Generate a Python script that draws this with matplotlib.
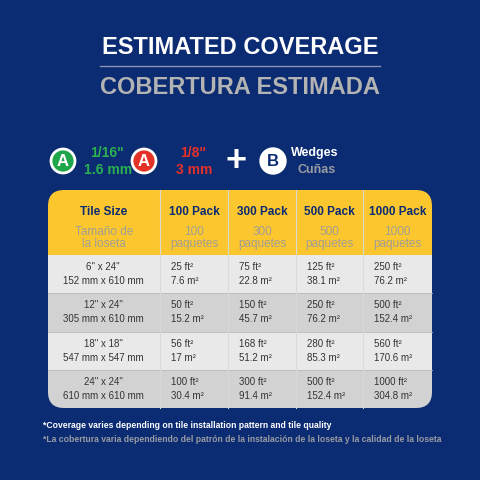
import matplotlib
matplotlib.use("Agg")
import matplotlib.pyplot as plt
from matplotlib.patches import FancyBboxPatch, Rectangle, Circle

col_en = ["Tile Size", "100 Pack", "300 Pack", "500 Pack", "1000 Pack"]
col_es = ["Tamaño de\nla loseta", "100\npaquetes", "300\npaquetes", "500\npaquetes", "1000\npaquetes"]
size_in = ['6" x 24"', '12" x 24"', '18" x 18"', '24" x 24"']
size_mm = ["152 mm x 610 mm", "305 mm x 610 mm", "547 mm x 547 mm", "610 mm x 610 mm"]
ft2 = [[25, 75, 125, 250], [50, 150, 250, 500], [56, 168, 280, 560], [100, 300, 500, 1000]]
m2 = [["7.6", "22.8", "38.1", "76.2"], ["15.2", "45.7", "76.2", "152.4"],
      ["17", "51.2", "85.3", "170.6"], ["30.4", "91.4", "152.4", "304.8"]]

BG = "#0b2b72"; YEL = "#fcc72e"; NAVY = "#0b2b72"; GREY = "#9a9ca3"
fig = plt.figure(figsize=(4.8, 4.8), dpi=100, facecolor=BG)
ax = fig.add_axes([0, 0, 1, 1]); ax.set_xlim(0, 480); ax.set_ylim(480, 0); ax.axis("off")
F = "Liberation Sans"

ax.text(240, 47, "ESTIMATED COVERAGE", color="white", fontsize=17, fontweight="bold", ha="center", va="center", family=F)
ax.plot([100, 380], [66, 66], color="#8a93b0", lw=1)
ax.text(240, 88, "COBERTURA ESTIMADA", color="#b3b3b3", fontsize=17, fontweight="bold", ha="center", va="center", family=F)

# icons
for cx, col in [(63, "#1fa64a"), (144, "#e53127")]:
    ax.add_patch(Circle((cx, 161), 12, fc=col, ec="white", lw=2))
    ax.text(cx, 162, "A", color="white", fontsize=12, fontweight="bold", ha="center", va="center", family=F)
ax.text(90, 153, '1/16"', color="#2ab24f", fontsize=10, fontweight="bold", va="center", family=F)
ax.text(84, 170, "1.6 mm", color="#2ab24f", fontsize=10, fontweight="bold", va="center", family=F)
ax.text(180, 153, '1/8"', color="#e53127", fontsize=10, fontweight="bold", va="center", family=F)
ax.text(176, 170, "3 mm", color="#e53127", fontsize=10, fontweight="bold", va="center", family=F)
ax.text(236, 162, "+", color="white", fontsize=26, fontweight="bold", ha="center", va="center", family=F)
ax.add_patch(Circle((273, 161), 13, fc="white", ec="white"))
ax.text(273, 162, "B", color=NAVY, fontsize=12, fontweight="bold", ha="center", va="center", family=F)
ax.text(291, 153, "Wedges", color="white", fontsize=9, fontweight="bold", va="center", family=F)
ax.text(297, 170, "Cuñas", color=GREY, fontsize=9, fontweight="bold", va="center", family=F)

# table
L, R, T, HB, B = 48, 432, 190, 255, 408
xs = [48, 160, 228, 296, 363, 432]
clip = FancyBboxPatch((L, T), R - L, B - T, boxstyle="round,pad=0,rounding_size=16", fc="none", ec="none")
ax.add_patch(clip)
hdr = Rectangle((L, T), R - L, HB - T, fc=YEL, ec="none"); ax.add_patch(hdr); hdr.set_clip_path(clip)
rh = (B - HB) / 4
for i in range(4):
    y0 = HB + i * rh
    r = Rectangle((L, y0), R - L, rh, fc="#e9e9e9" if i % 2 == 0 else "#d2d2d2", ec="none")
    ax.add_patch(r); r.set_clip_path(clip)
    if i > 0:
        ax.plot([L, R], [y0, y0], color="#bbbbbb", lw=0.6)
for x in xs[1:-1]:
    ax.plot([x, x], [T, B], color="#d9d9d9", lw=0.8)
for j in range(5):
    cx = (xs[j] + xs[j + 1]) / 2
    ax.text(cx, 212, col_en[j], color=NAVY, fontsize=8.5, fontweight="bold", ha="center", va="center", family=F)
    ax.text(cx, 238, col_es[j], color="#a09d95", fontsize=8.5, ha="center", va="center", linespacing=1.0, family=F)
for i in range(4):
    cy = HB + i * rh + rh / 2
    ax.text(103, cy - 7, size_in[i], color="#333333", fontsize=7, ha="center", va="center", family=F)
    ax.text(103, cy + 7, size_mm[i], color="#333333", fontsize=7, ha="center", va="center", family=F)
    for j in range(4):
        x0 = xs[j + 1] + 11
        ax.text(x0, cy - 7, f"{ft2[i][j]} ft²", color="#333333", fontsize=7, va="center", family=F)
        ax.text(x0, cy + 7, f"{m2[i][j]} m²", color="#333333", fontsize=7, va="center", family=F)

ax.text(43, 426, "*Coverage varies depending on tile installation pattern and tile quality", color="white", fontsize=6.2, fontweight="bold", va="center", family=F)
ax.text(43, 440, "*La cobertura varia dependiendo del patrón de la instalación de la loseta y la calidad de la loseta", color=GREY, fontsize=6.2, fontweight="bold", va="center", family=F)

fig.savefig("out.png", dpi=100, facecolor=BG)
